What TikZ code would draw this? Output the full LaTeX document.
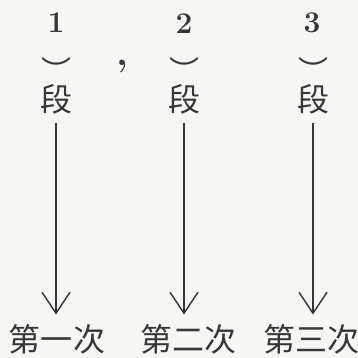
\documentclass[tikz,border=0pt]{standalone}
\usepackage{fontspec}
\newfontfamily\cjkfont{Noto Sans CJK SC}
\usetikzlibrary{arrows.meta}
\definecolor{ink}{RGB}{55,55,55}
\definecolor{paper}{RGB}{247,247,245}
\begin{document}
\begin{tikzpicture}[x=1pt,y=-1pt,
  num/.style={inner sep=0pt,font=\fontsize{30}{30}\selectfont\bfseries,text=ink},
  comma/.style={inner sep=0pt,font=\fontsize{38}{38}\selectfont\bfseries,text=ink},
  brk/.style={inner sep=0pt,anchor=base,font=\cjkfont\fontsize{30}{30}\selectfont,text=ink},
  cjk/.style={inner sep=0pt,font=\cjkfont\fontsize{32}{32}\selectfont,text=ink,text height=26.2pt,text depth=2.2pt},
  arr/.style={draw=ink,line width=1.5pt,-{Straight Barb[length=21pt,width=28pt,line width=1.5pt]},shorten <=9pt,shorten >=10pt}]
\fill[paper] (0,0) rectangle (358,358);
\useasboundingbox (0,0) rectangle (358,358);
% numbers
\node[num] (n1) at (56,23) {1};
\node[num] (n2) at (184,24) {2};
\node[num] (n3) at (312,23) {3};
% brackets
\node[brk] (k1) at (56,82.5) {︶};
\node[brk] (k2) at (184,82.5) {︶};
\node[brk] (k3) at (313,82.5) {︶};
\node[comma] (cm) at (122,66) {,};
% duan
\node[cjk] (d1) at (56,100) {段};
\node[cjk] (d2) at (184,100) {段};
\node[cjk] (d3) at (313,100) {段};
% bottom
\node[cjk] (b1) at (57,339) {第一次};
\node[cjk] (b2) at (188,339) {第二次};
\node[cjk] (b3) at (311,339) {第三次};
% arrows
\draw[arr] (d1.south) -- (d1.south |- b1.north);
\draw[arr] (d2.south) -- (d2.south |- b2.north);
\draw[arr] (d3.south) -- (d3.south |- b3.north);
\end{tikzpicture}
\end{document}
